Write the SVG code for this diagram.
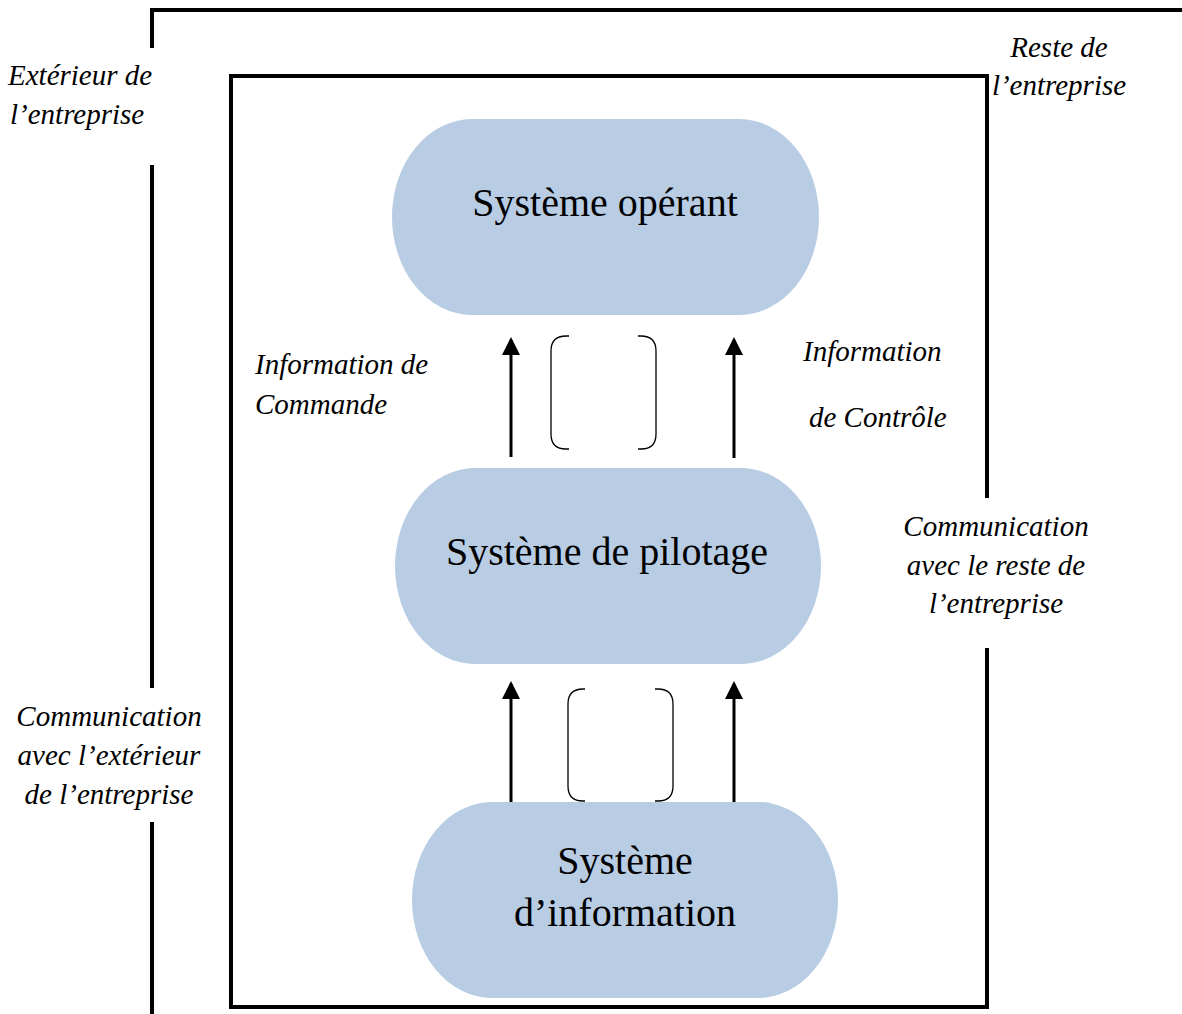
<svg xmlns="http://www.w3.org/2000/svg" width="1182" height="1014" viewBox="0 0 1182 1014">
<style>
.frame{fill:none;stroke:#000;stroke-width:4}
.node{fill:#b8cce4}
.nt{font-family:"Liberation Serif",serif;font-size:40px;fill:#000;text-anchor:middle}
.lbl{font-family:"Liberation Serif",serif;font-size:29px;font-style:italic;fill:#000}
.arr{stroke:#000;stroke-width:3;fill:none}
.br{stroke:#000;stroke-width:1.3;fill:none}
</style>
<defs>
<marker id="ah" markerWidth="6" markerHeight="6" refX="5" refY="3" orient="auto" markerUnits="strokeWidth">
<path d="M0,0 L6,3 L0,6 Z" fill="#000"/>
</marker>
</defs>
<g id="frames">
<path class="frame" d="M152,48 V10 H1182"/>
<path class="frame" d="M152,165 V688"/>
<path class="frame" d="M152,822 V1014"/>
<path class="frame" d="M987,498 V76 H231 V1007 H987 V648"/>
</g>
<g id="node-operant">
<rect class="node" x="392" y="119" width="427" height="196" rx="80" ry="98"/>
<text class="nt" x="605" y="216">Système opérant</text>
</g>
<g id="node-pilotage">
<rect class="node" x="395" y="468" width="426" height="196" rx="80" ry="98"/>
<text class="nt" x="607" y="565">Système de pilotage</text>
</g>
<g id="node-information">
<rect class="node" x="412" y="802" width="426" height="196" rx="80" ry="98"/>
<text class="nt" x="625" y="874">Système</text>
<text class="nt" x="625" y="926">d’information</text>
</g>
<g id="connectors">
<line class="arr" x1="511" y1="457" x2="511" y2="340" marker-end="url(#ah)"/>
<line class="arr" x1="734" y1="458" x2="734" y2="340" marker-end="url(#ah)"/>
<line class="arr" x1="511" y1="802" x2="511" y2="684" marker-end="url(#ah)"/>
<line class="arr" x1="734" y1="802" x2="734" y2="684" marker-end="url(#ah)"/>
<path class="br" d="M569,336 H566 Q551,336 551,351 V434 Q551,449 566,449 H569"/>
<path class="br" d="M638,336 H641 Q656,336 656,351 V434 Q656,449 641,449 H638"/>
<path class="br" d="M585,689 H583 Q568,689 568,704 V786 Q568,801 583,801 H585"/>
<path class="br" d="M655,689 H658 Q673,689 673,704 V786 Q673,801 658,801 H655"/>
</g>
<g id="labels">
<text class="lbl" x="8" y="85">Extérieur de</text>
<text class="lbl" x="10" y="124">l’entreprise</text>
<text class="lbl" x="1059" y="57" text-anchor="middle">Reste de</text>
<text class="lbl" x="1059" y="95" text-anchor="middle">l’entreprise</text>
<text class="lbl" x="255" y="374">Information de</text>
<text class="lbl" x="255" y="414">Commande</text>
<text class="lbl" x="803" y="361">Information</text>
<text class="lbl" x="809" y="427">de Contrôle</text>
<text class="lbl" x="996" y="536" text-anchor="middle">Communication</text>
<text class="lbl" x="996" y="575" text-anchor="middle">avec le reste de</text>
<text class="lbl" x="996" y="613" text-anchor="middle">l’entreprise</text>
<text class="lbl" x="109" y="726" text-anchor="middle">Communication</text>
<text class="lbl" x="109" y="765" text-anchor="middle">avec l’extérieur</text>
<text class="lbl" x="109" y="804" text-anchor="middle">de l’entreprise</text>
</g>
</svg>
